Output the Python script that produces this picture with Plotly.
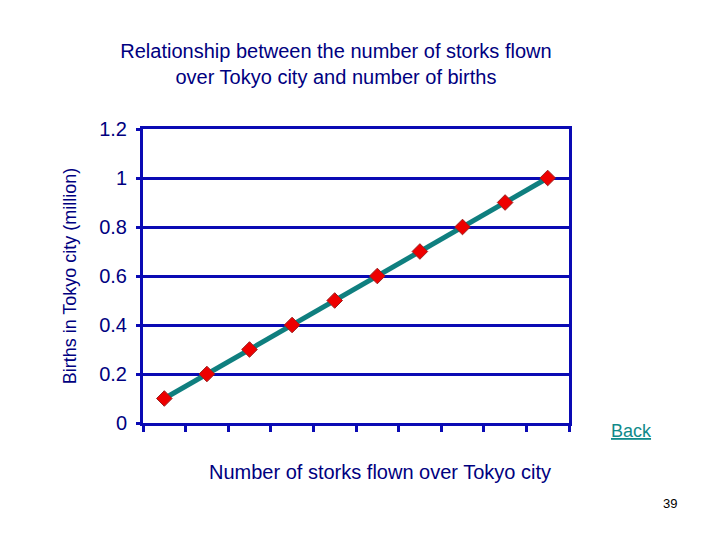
import plotly.graph_objects as go

storks = [1, 2, 3, 4, 5, 6, 7, 8, 9, 10]
births = [0.1, 0.2, 0.3, 0.4, 0.5, 0.6, 0.7, 0.8, 0.9, 1.0]

navy = "#000080"
blue = "#0a0ab4"
font = "Arial, Liberation Sans, sans-serif"

# target plot box in the picture (pixels)
L, R, T, B = 141, 567, 129, 423

fig = go.Figure()
fig.add_trace(go.Scatter(
    x=storks, y=births, mode="lines+markers",
    line=dict(color="#0f7f7f", width=5),
    marker=dict(symbol="diamond", size=12, color="#ee0000",
                line=dict(color="#9a2020", width=1)),
    showlegend=False,
))

# page is drawn a few px right/down, so margins are nudged back
fig.update_layout(
    width=720, height=540,
    margin=dict(l=L - 6, r=720 - R + 6, t=T - 8, b=540 - B + 8),
    paper_bgcolor="white", plot_bgcolor="white",
    font=dict(family=font, color=navy, size=20),
    title=dict(
        text="Relationship between the number of storks flown<br>over Tokyo city and number of births",
        x=0.4555, xanchor="center", y=0.907, yanchor="top",
        font=dict(size=20, color=navy),
    ),
)

fig.update_xaxes(
    range=[0.5, 10.5],
    tickvals=[i + 0.5 for i in range(0, 11)],
    showticklabels=False,
    ticks="outside", ticklen=6, tickwidth=3, tickcolor=blue,
    showgrid=False, zeroline=False,
    showline=True, linecolor=blue, linewidth=3, mirror=True,
)
fig.update_yaxes(
    range=[0, 1.2], dtick=0.2,
    ticks="outside", ticklen=4, tickwidth=3, tickcolor=blue,
    ticklabelstandoff=5,
    showgrid=True, gridcolor=blue, gridwidth=3, zeroline=False,
    showline=True, linecolor=blue, linewidth=3, mirror=True,
    tickfont=dict(size=20, color=navy),
    title=dict(text="Births in Tokyo city (million)",
               font=dict(size=18, color=navy), standoff=18),
)

notes = [
    ("Number of storks flown over Tokyo city", 378, 472, 20, navy),
    ("<u>Back</u>", 629, 431, 18, "#108a8a"),
    ("39", 668, 503, 13, "black"),
]
for text, px, py, size, color in notes:
    fig.add_annotation(
        text=text, xref="paper", yref="paper",
        x=(px - L) / (R - L), y=(B - py) / (B - T),
        xanchor="center", yanchor="middle",
        showarrow=False, font=dict(size=size, color=color, family=font),
    )

fig.write_html("out.html")
